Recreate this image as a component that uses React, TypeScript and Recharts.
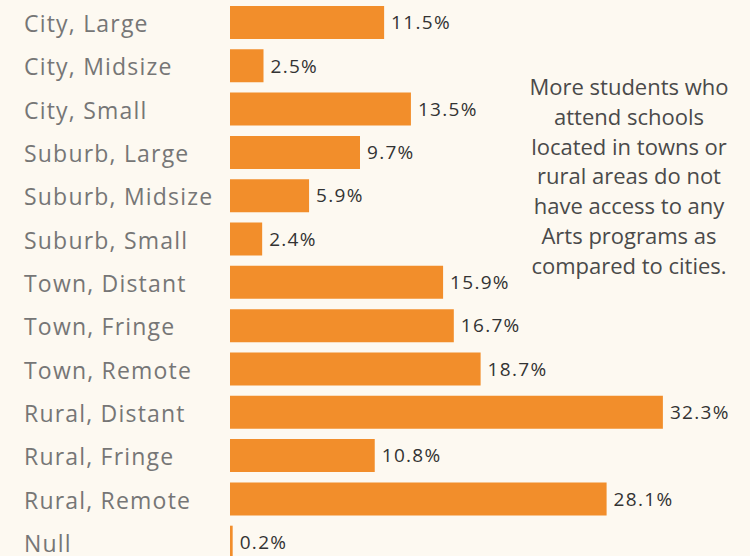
import { Bar, BarChart, LabelList, XAxis, YAxis } from 'recharts';

const categories = [
  'City, Large',
  'City, Midsize',
  'City, Small',
  'Suburb, Large',
  'Suburb, Midsize',
  'Suburb, Small',
  'Town, Distant',
  'Town, Fringe',
  'Town, Remote',
  'Rural, Distant',
  'Rural, Fringe',
  'Rural, Remote',
  'Null',
];

const noArtsPct = [11.5, 2.5, 13.5, 9.7, 5.9, 2.4, 15.9, 16.7, 18.7, 32.3, 10.8, 28.1, 0.2];

const noteLines = [
  'More students who',
  'attend schools',
  'located in towns or',
  'rural areas do not',
  'have access to any',
  'Arts programs as',
  'compared to cities.',
];

const data = categories.map((locale, i) => ({ locale, pct: noArtsPct[i] }));

const FONT = '"Open Sans", "Noto Sans", sans-serif';

const CategoryTick = (props: any) => {
  const { y, payload } = props;
  return (
    <text
      x={24}
      y={y}
      dy={9.5}
      textAnchor="start"
      fill="#767676"
      fontSize={23}
      letterSpacing={1.2}
      fontFamily={FONT}
    >
      {payload.value}
    </text>
  );
};

export default function App() {
  return (
    <div
      style={{
        position: 'fixed',
        left: 0,
        top: 0,
        width: 750,
        height: 556,
        overflow: 'hidden',
        background: '#fdf9f1',
      }}
    >
      <BarChart
        width={750}
        height={564}
        data={data}
        layout="vertical"
        margin={{ top: 1, right: 0, left: 0, bottom: 0 }}
      >
        <XAxis type="number" domain={[0, 38.8]} hide />
        <YAxis
          type="category"
          dataKey="locale"
          width={230}
          axisLine={false}
          tickLine={false}
          tick={<CategoryTick />}
          interval={0}
        />
        <Bar dataKey="pct" fill="#f28e2b" barSize={33} isAnimationActive={false}>
          <LabelList
            dataKey="pct"
            position="right"
            offset={7}
            formatter={(v: any) => `${v}%`}
            fill="#333"
            fontSize={19}
            letterSpacing={1.3}
            fontFamily={FONT}
          />
        </Bar>
      </BarChart>
      <div
        style={{
          position: 'absolute',
          left: 514,
          top: 72,
          width: 230,
          textAlign: 'center',
          fontFamily: FONT,
          fontSize: 22,
          lineHeight: '29.8px',
          color: '#4a4a4a',
        }}
      >
        {noteLines.map((line) => (
          <div key={line}>{line}</div>
        ))}
      </div>
    </div>
  );
}
